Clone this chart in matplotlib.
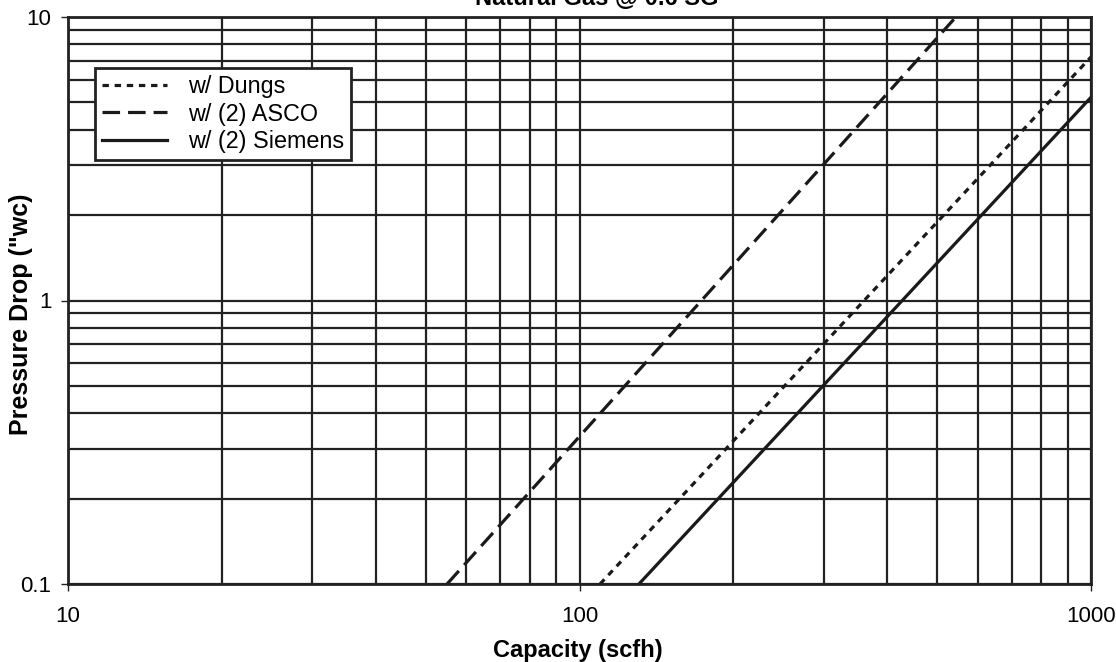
import matplotlib
matplotlib.use("Agg")
import matplotlib.pyplot as plt
from matplotlib.ticker import LogLocator, FixedLocator, NullFormatter, FixedFormatter

plt.rcParams['font.family'] = ['Liberation Sans', 'DejaVu Sans']

# data (straight lines on log-log)
dungs_q = [109.7, 1000]
dungs_dp = [0.1, 7.23]
asco_q = [55.1, 547]
asco_dp = [0.1, 10.1]
siemens_q = [130.7, 1000]
siemens_dp = [0.1, 5.21]

xticks = [10, 100, 1000]
xticklabels = ["10", "100", "1000"]
yticks = [0.1, 1, 10]
yticklabels = ["0.1", "1", "10"]

W, H, DPI = 1116, 662, 100
L, R, T, B = 68, 1091, 17, 584
fig = plt.figure(figsize=(W / DPI, H / DPI), dpi=DPI)
ax = fig.add_axes([L / W, 1 - B / H, (R - L) / W, (B - T) / H])

ax.set_xscale('log')
ax.set_yscale('log')
ax.set_xlim(10, 1000)
ax.set_ylim(0.1, 10)

gc = '#222222'
ax.xaxis.set_major_locator(FixedLocator(xticks))
ax.xaxis.set_major_formatter(FixedFormatter(xticklabels))
ax.yaxis.set_major_locator(FixedLocator(yticks))
ax.yaxis.set_major_formatter(FixedFormatter(yticklabels))
ax.xaxis.set_minor_locator(LogLocator(base=10, subs=range(2, 10)))
ax.yaxis.set_minor_locator(LogLocator(base=10, subs=range(2, 10)))
ax.xaxis.set_minor_formatter(NullFormatter())
ax.yaxis.set_minor_formatter(NullFormatter())
ax.grid(True, which='both', color=gc, linewidth=1.6)
ax.set_axisbelow(True)
ax.tick_params(which='major', direction='out', length=5, width=1, color=gc,
               labelsize=16)
ax.tick_params(axis='x', which='major', pad=11)
ax.tick_params(axis='y', which='major', pad=7)
ax.tick_params(which='minor', length=0)
for s in ax.spines.values():
    s.set_color(gc)
    s.set_linewidth(2)

lw = 2.3
ax.plot(dungs_q, dungs_dp, color='#1a1a1a', lw=lw, linestyle=(0, (2.0, 1.8)),
        label='w/ Dungs', dash_capstyle='butt')
ax.plot(asco_q, asco_dp, color='#1a1a1a', lw=lw, linestyle=(0, (5.5, 2.5)),
        label='w/ (2) ASCO', dash_capstyle='butt')
ax.plot(siemens_q, siemens_dp, color='#1a1a1a', lw=lw, linestyle='-',
        label='w/ (2) Siemens')

leg = ax.legend(loc='upper left',
                bbox_to_anchor=((95 - L) / (R - L), 1 - (68 - T) / (B - T)),
                fontsize=16.8, frameon=True, fancybox=False, framealpha=1,
                edgecolor=gc, borderpad=0.3, labelspacing=0.2, handlelength=2.8,
                handletextpad=0.9, borderaxespad=0)
leg.get_frame().set_linewidth(2)

ax.set_xlabel('Capacity (scfh)', fontsize=17, fontweight='bold')
ax.set_ylabel('Pressure Drop ("wc)', fontsize=18, fontweight='bold')
ax.xaxis.set_label_coords((578 - L) / (R - L), -(650 - B) / (B - T))
ax.xaxis.label.set_va('center')
ax.yaxis.set_label_coords(-(L - 21) / (R - L), 1 - (314 - T) / (B - T))
ax.yaxis.label.set_va('center')

fig.text(597 / W, 1 - 5 / H, 'Natural Gas @ 0.6 SG', ha='center', va='baseline',
         fontsize=17, fontweight='bold')

fig.savefig('out.png', dpi=DPI)
